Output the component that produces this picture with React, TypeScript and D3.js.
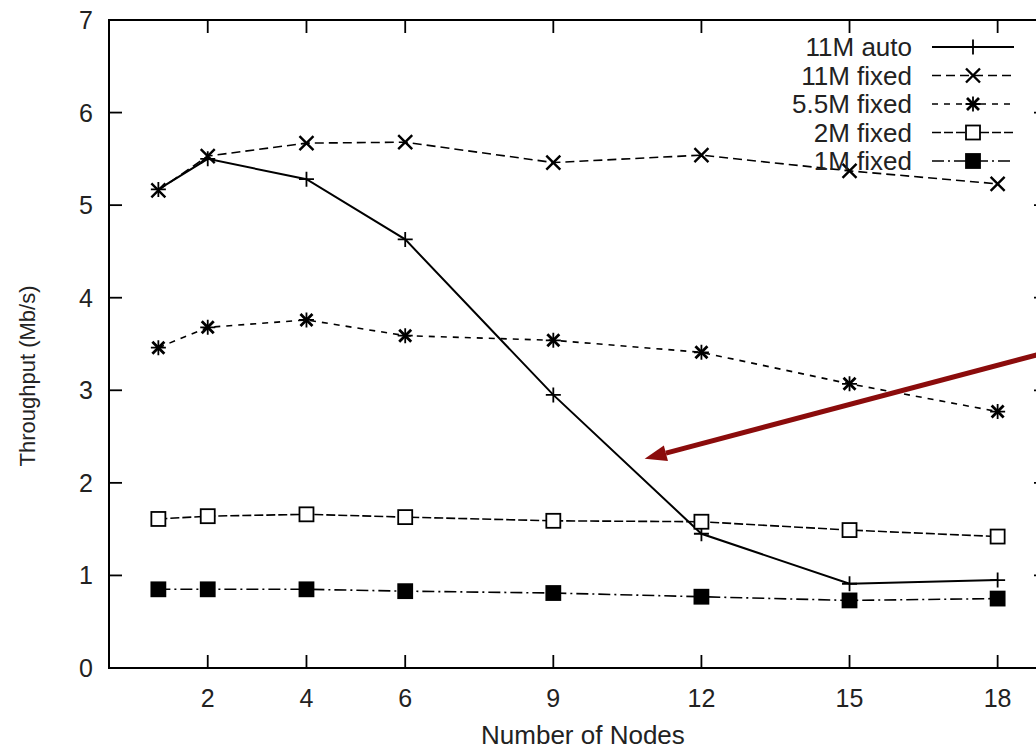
import React, { useEffect, useRef } from "react";
import * as d3 from "d3";

// values
const nodes = [1, 2, 4, 6, 9, 12, 15, 18];
const auto11M = [5.17, 5.5, 5.28, 4.63, 2.95, 1.45, 0.91, 0.95];
const fixed11M = [5.16, 5.53, 5.67, 5.68, 5.46, 5.54, 5.37, 5.23];
const fixed55M = [3.46, 3.68, 3.76, 3.59, 3.54, 3.41, 3.07, 2.77];
const fixed2M = [1.61, 1.64, 1.66, 1.63, 1.59, 1.58, 1.49, 1.42];
const fixed1M = [0.85, 0.85, 0.85, 0.83, 0.81, 0.77, 0.73, 0.75];

const xTicks = [2, 4, 6, 9, 12, 15, 18];
const yTicks = [0, 1, 2, 3, 4, 5, 6, 7];

const seriesNames = ["11M auto", "11M fixed", "5.5M fixed", "2M fixed", "1M fixed"];
const seriesValues = [auto11M, fixed11M, fixed55M, fixed2M, fixed1M];
const seriesDash = ["none", "9,5", "6,6", "9,3", "12,4,2,4"];
const seriesMarker = ["plus", "cross", "star", "box", "boxFilled"];

// red arrow annotation (data coords): tail -> tip
const arrowTail = [19.2, 3.44];
const arrowTip = [10.85, 2.26];

const FONT = "'Liberation Sans', Arial, Helvetica, sans-serif";

const App = () => {
  const svgRef = useRef<SVGSVGElement>(null);

  useEffect(() => {
    const svg = d3.select(svgRef.current);
    svg.selectAll("*").remove();

    const left = 109;
    const right = 1047;
    const top = 20;
    const bottom = 668;

    const x = d3.scaleLinear().domain([0, 19]).range([left, right]);
    const y = d3.scaleLinear().domain([0, 7]).range([bottom, top]);

    const drawMarker = (g: any, kind: string, cx: number, cy: number) => {
      const s = 7.5;
      if (kind === "plus" || kind === "star") {
        g.append("path")
          .attr("d", `M${cx - s},${cy}H${cx + s}M${cx},${cy - s}V${cy + s}`)
          .attr("stroke", "#000").attr("stroke-width", 1.8);
      }
      if (kind === "cross" || kind === "star") {
        const k = kind === "star" ? 6 : 7;
        g.append("path")
          .attr("d", `M${cx - k},${cy - k}L${cx + k},${cy + k}M${cx - k},${cy + k}L${cx + k},${cy - k}`)
          .attr("stroke", "#000").attr("stroke-width", kind === "star" ? 2.8 : 2.4);
      }
      if (kind === "box" || kind === "boxFilled") {
        g.append("rect")
          .attr("x", cx - 7).attr("y", cy - 7)
          .attr("width", 14).attr("height", 14)
          .attr("fill", kind === "boxFilled" ? "#000" : "#fff")
          .attr("stroke", "#000").attr("stroke-width", 1.8);
      }
    };

    // frame
    svg.append("rect")
      .attr("x", left).attr("y", top)
      .attr("width", right - left).attr("height", bottom - top)
      .attr("fill", "none").attr("stroke", "#000").attr("stroke-width", 2);

    const tl = 13;
    // x ticks (bottom and mirrored top)
    xTicks.forEach((t) => {
      svg.append("line").attr("x1", x(t)).attr("x2", x(t))
        .attr("y1", bottom).attr("y2", bottom - tl)
        .attr("stroke", "#000").attr("stroke-width", 1.8);
      svg.append("line").attr("x1", x(t)).attr("x2", x(t))
        .attr("y1", top).attr("y2", top + tl)
        .attr("stroke", "#000").attr("stroke-width", 1.8);
      svg.append("text").attr("x", x(t)).attr("y", 707)
        .attr("text-anchor", "middle")
        .attr("font-family", FONT).attr("font-size", 25).attr("fill", "#222")
        .text(t);
    });

    // y ticks (left and mirrored right)
    yTicks.forEach((t) => {
      if (t > 0 && t < 7) {
        svg.append("line").attr("x1", left).attr("x2", left + tl)
          .attr("y1", y(t)).attr("y2", y(t))
          .attr("stroke", "#000").attr("stroke-width", 1.8);
        svg.append("line").attr("x1", right).attr("x2", right - tl)
          .attr("y1", y(t)).attr("y2", y(t))
          .attr("stroke", "#000").attr("stroke-width", 1.8);
      }
      svg.append("text").attr("x", 93).attr("y", y(t) + 9)
        .attr("text-anchor", "end")
        .attr("font-family", FONT).attr("font-size", 25).attr("fill", "#222")
        .text(t);
    });

    // axis titles
    svg.append("text").attr("x", x(9.6)).attr("y", 744)
      .attr("text-anchor", "middle")
      .attr("font-family", FONT).attr("font-size", 26).attr("fill", "#222")
      .text("Number of Nodes");
    svg.append("text")
      .attr("transform", "translate(35,376) rotate(-90)")
      .attr("text-anchor", "middle")
      .attr("font-family", FONT).attr("font-size", 22).attr("fill", "#222")
      .text("Throughput (Mb/s)");

    // series
    const line = d3.line<number>()
      .x((_, i) => x(nodes[i]))
      .y((d) => y(d));

    seriesValues.forEach((vals, si) => {
      svg.append("path")
        .attr("d", line(vals))
        .attr("fill", "none")
        .attr("stroke", "#000")
        .attr("stroke-width", si === 0 ? 2 : 1.6)
        .attr("stroke-dasharray", seriesDash[si]);
      const g = svg.append("g");
      vals.forEach((v, i) => drawMarker(g, seriesMarker[si], x(nodes[i]), y(v)));
    });

    // legend
    const legY0 = 47;
    const legStep = 28.5;
    seriesNames.forEach((name, i) => {
      const ly = legY0 + i * legStep;
      svg.append("text").attr("x", 912).attr("y", ly + 9)
        .attr("text-anchor", "end")
        .attr("font-family", FONT).attr("font-size", 26).attr("fill", "#222")
        .text(name);
      svg.append("line").attr("x1", 932).attr("x2", 1014)
        .attr("y1", ly).attr("y2", ly)
        .attr("stroke", "#000").attr("stroke-width", i === 0 ? 2 : 1.6)
        .attr("stroke-dasharray", seriesDash[i]);
      drawMarker(svg.append("g"), seriesMarker[i], 973, ly);
    });

    // red arrow
    const x1 = x(arrowTail[0]), y1 = y(arrowTail[1]);
    const x2 = x(arrowTip[0]), y2 = y(arrowTip[1]);
    const ang = Math.atan2(y2 - y1, x2 - x1);
    const hl = 22, hw = 8;
    const bx = x2 - hl * Math.cos(ang), by = y2 - hl * Math.sin(ang);
    svg.append("line")
      .attr("x1", x1).attr("y1", y1).attr("x2", bx).attr("y2", by)
      .attr("stroke", "#8b0c0c").attr("stroke-width", 5);
    svg.append("path")
      .attr("d", `M${x2},${y2}L${bx + hw * Math.sin(ang)},${by - hw * Math.cos(ang)}L${bx - hw * Math.sin(ang)},${by + hw * Math.cos(ang)}Z`)
      .attr("fill", "#8b0c0c");
  }, []);

  return (
    <svg
      ref={svgRef}
      width={1036}
      height={751}
      style={{ position: "absolute", left: 0, top: 0, background: "#fff" }}
    ></svg>
  );
};

export default App;
